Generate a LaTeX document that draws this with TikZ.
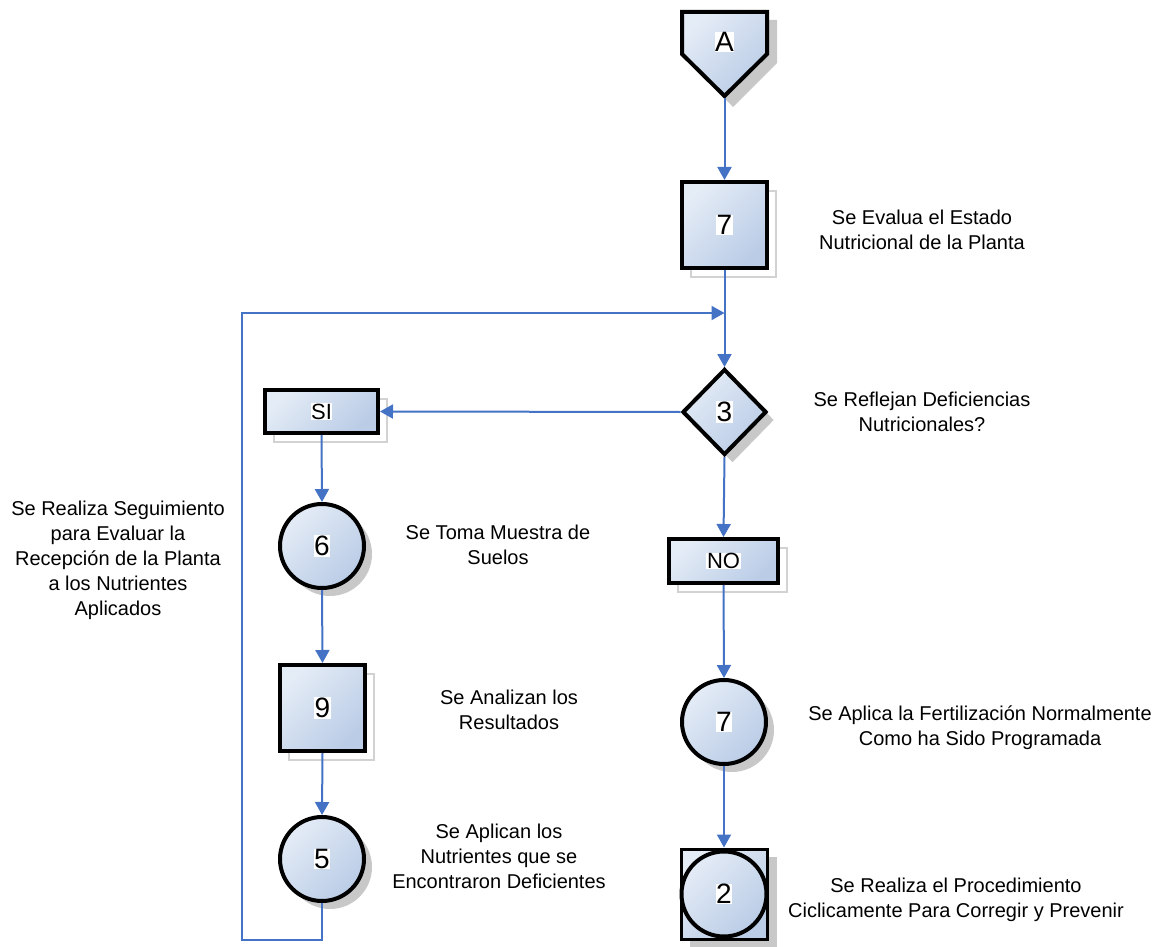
\documentclass[tikz,border=0pt]{standalone}
\usepackage{fontspec}
\setmainfont{Liberation Sans}
\usetikzlibrary{arrows.meta,shapes.geometric,shadows}
\definecolor{flowblue}{HTML}{4472C4}
\definecolor{fillhi}{HTML}{E4ECF6}
\definecolor{filllo}{HTML}{BACCE6}
\definecolor{shadowgray}{HTML}{C8C8C8}
\definecolor{ghostgray}{HTML}{D2D2D2}
% white patch behind the step numbers
\newcommand\numtag[1]{{\setlength\fboxsep{0.6pt}\colorbox{white}{#1}}}

\begin{document}
\begin{tikzpicture}[x=1pt,y=-1pt,
  shapebase/.style={draw=black, line width=4pt, top color=fillhi, bottom color=filllo,
    shading angle=45, inner sep=0pt, font=\fontsize{28}{30}\selectfont},
  solidshadow/.style={drop shadow={shadow xshift=8pt, shadow yshift=-8pt, fill=shadowgray, opacity=1}},
  ghostshadow/.style={general shadow={shadow xshift=9pt, shadow yshift=-9pt, draw=ghostgray, line width=2pt}},
  opbox/.style={shapebase, rectangle, minimum width=85pt, minimum height=86pt, ghostshadow},
  tagbox/.style={shapebase, rectangle, ghostshadow, font=\fontsize{22}{24}\selectfont},
  opcircle/.style={shapebase, circle, minimum size=84pt, solidshadow},
  decision/.style={shapebase, diamond, minimum width=84pt, minimum height=86pt, solidshadow},
  flow/.style={draw=flowblue, line width=2pt, -{Triangle[length=13pt,width=14pt]}},
  lbl/.style={font=\fontsize{20}{25}\selectfont, align=center}]

\useasboundingbox (0,0) rectangle (1168,947);

% off-page connector A
\fill[shadowgray] (690,20) -- (777,20) -- (777,63) -- (733,107) -- (690,63) -- cycle;
\path[shapebase] (682,12) -- (767,12) -- (767,54) -- (724.5,96) -- (682,54) -- cycle;
\node[font=\fontsize{28}{30}\selectfont] (A) at (724.5,42) {\numtag{A}};
\coordinate (Atip) at (724.5,98);

% right column
\node[opbox] (b7) at (724.5,225) {\numtag{7}};
\node[decision] (d3) at (724.5,412) {\numtag{3}};
\node[tagbox, minimum width=109pt, minimum height=44pt] (no) at (723.5,561) {\numtag{NO}};
\node[opcircle] (c7) at (724,722) {\numtag{7}};

% combined operation/inspection symbol
\fill[shadowgray] (690,857) rectangle (777,949);
\node[shapebase, rectangle, line width=3pt, minimum width=86pt, minimum height=90pt] (sq2) at (724,894) {};
\node[shapebase, circle, minimum size=85pt] (c2) at (724,894) {\numtag{2}};

% left column
\node[tagbox, minimum width=113pt, minimum height=43pt] (si) at (321.5,411.5) {\numtag{SI}};
\node[opcircle] (c6) at (322,546) {\numtag{6}};
\node[opbox] (b9) at (322.5,708) {\numtag{9}};
\node[opcircle] (c5) at (322,859) {\numtag{5}};

% loop back to the decision
\coordinate (loopbot) at (242,940);
\coordinate (join) at (724.5,313);

% connectors
\draw[flow] (Atip) -- (b7.north);
\draw[flow] (b7.south) -- (d3.north);
\draw[flow] (d3.west) -- (si.east);
\draw[flow] (d3.south) -- (no.north);
\draw[flow] (no.south) -- (c7.north);
\draw[flow] (c7.south) -- (sq2.north);
\draw[flow] (si.south) -- (c6.north);
\draw[flow] (c6.south) -- (b9.north);
\draw[flow] (b9.south) -- (c5.north);
\draw[flow] (c5.south) |- (loopbot) |- (join);

% descriptions
\node[lbl] (t7) at (922,230) {Se Evalua el Estado\\Nutricional de la Planta};
\node[lbl] (t3) at (922,412) {Se Reflejan Deficiencias\\Nutricionales?};
\node[lbl] (tseg) at (118,560) {Se Realiza Seguimiento\\para Evaluar la\\Recepción de la Planta\\a los Nutrientes\\Aplicados};
\node[lbl] (t6) at (498,545) {Se Toma Muestra de\\Suelos};
\node[lbl] (t9) at (509,710) {Se Analizan los\\Resultados};
\node[lbl] (t5) at (499,856) {Se Aplican los\\Nutrientes que se\\Encontraron Deficientes};
\node[lbl] (tc7) at (980,728) {Se Aplica la Fertilización Normalmente\\Como ha Sido Programada};
\node[lbl] (t2) at (956,900) {Se Realiza el Procedimiento\\Ciclicamente Para Corregir y Prevenir};
\end{tikzpicture}
\end{document}
